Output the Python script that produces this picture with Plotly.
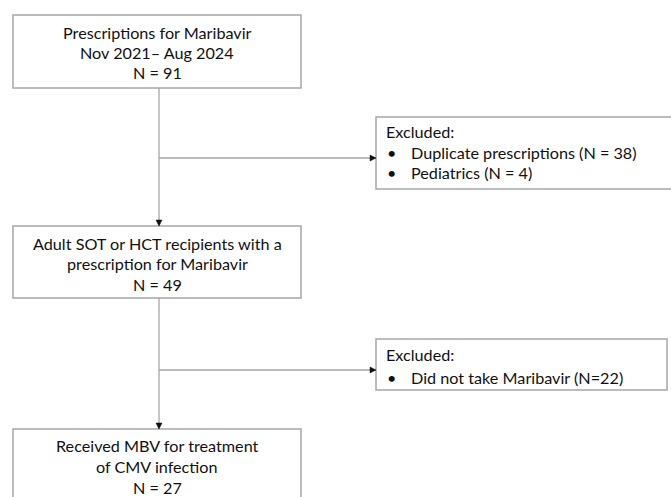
import plotly.graph_objects as go

# ---- data ----
main_titles = [
    ["Prescriptions for Maribavir", "Nov 2021\u2013 Aug 2024"],
    ["Adult SOT or HCT recipients with a", "prescription for Maribavir"],
    ["Received MBV for treatment", "of CMV infection"],
]
main_counts = [91, 49, 27]
excl_reasons = [
    ["Duplicate prescriptions (N = 38)", "Pediatrics (N = 4)"],
    ["Did not take Maribavir (N=22)"],
]
excl_header = "Excluded:"

W, H = 671, 497
FONT = "Lato, Open Sans, sans-serif"
FS = 16.2
LINE = "#a6a6a6"
TXT = "#111111"

# layout geometry (positions/sizes)
main_boxes = [(13, 301, 15, 88), (13, 301, 226, 298), (13, 301, 429, 520)]
main_text_y = [[32, 52, 72], [243, 263, 284], [445, 466, 487]]
excl_boxes = [(376, 700, 117, 189), (376, 667, 339, 390)]
excl_text_y = [[131, 152, 172], [354, 377]]
arrow_y = [158, 370]
cx = 159

shapes = []
ann = []

def rect(x0, x1, y0, y1):
    shapes.append(dict(type="rect", xref="x", yref="y", x0=x0, x1=x1, y0=y0, y1=y1,
                       line=dict(color=LINE, width=1.5), fillcolor="rgba(0,0,0,0)", layer="above"))

def line(x0, y0, x1, y1):
    shapes.append(dict(type="line", xref="x", yref="y", x0=x0, y0=y0, x1=x1, y1=y1,
                       line=dict(color=LINE, width=1.3)))

def head_down(x, y):
    shapes.append(dict(type="path", xref="x", yref="y",
                       path=f"M {x-3},{y-6} L {x+3},{y-6} L {x},{y} Z",
                       fillcolor="#111", line=dict(color="#111", width=0.5)))

def head_right(x, y):
    shapes.append(dict(type="path", xref="x", yref="y",
                       path=f"M {x-6},{y-3} L {x-6},{y+3} L {x},{y} Z",
                       fillcolor="#111", line=dict(color="#111", width=0.5)))

def text(x, y, s, anchor="center"):
    ann.append(dict(x=x, y=y, xref="x", yref="y", text=s, showarrow=False,
                    xanchor=anchor, yanchor="middle",
                    font=dict(family=FONT, size=FS, color=TXT)))

for (x0, x1, y0, y1), title, n, ys in zip(main_boxes, main_titles, main_counts, main_text_y):
    rect(x0, x1, y0, y1)
    lines = title + [f"N = {n}"]
    for s, yy in zip(lines, ys):
        text((x0 + x1) / 2, yy, s)

for (x0, x1, y0, y1), reasons, ys in zip(excl_boxes, excl_reasons, excl_text_y):
    rect(x0, x1, y0, y1)
    text(x0 + 8, ys[0], excl_header, "left")
    for r, yy in zip(reasons, ys[1:]):
        text(x0 + 9, yy, "\u2022", "left")
        text(x0 + 33, yy, r, "left")

# connectors
line(cx, main_boxes[0][3], cx, main_boxes[1][2])
head_down(cx, main_boxes[1][2])
line(cx, main_boxes[1][3], cx, main_boxes[2][2])
head_down(cx, main_boxes[2][2])
for ay, (bx0, _, _, _) in zip(arrow_y, excl_boxes):
    line(cx, ay, bx0, ay)
    head_right(bx0, ay)

fig = go.Figure()
fig.update_layout(
    width=W, height=H, margin=dict(l=0, r=0, t=0, b=0),
    paper_bgcolor="white", plot_bgcolor="white",
    xaxis=dict(range=[0, W], visible=False, fixedrange=True),
    yaxis=dict(range=[H, 0], visible=False, fixedrange=True),
    shapes=shapes, annotations=ann, showlegend=False,
)
fig.write_html(
    "out.html",
    config={"displayModeBar": False, "staticPlot": True},
    post_script="document.body.style.margin='0';document.body.style.overflow='hidden';",
)
